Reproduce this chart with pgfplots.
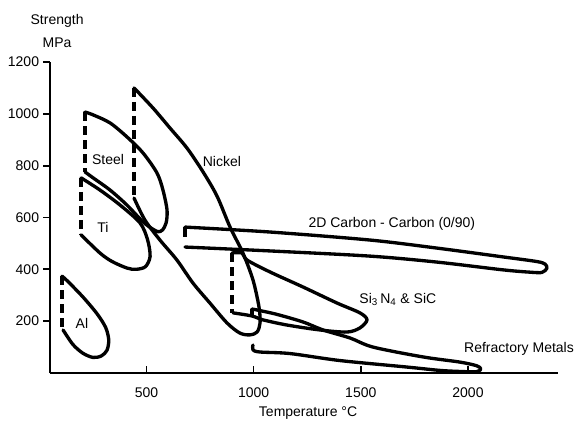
\documentclass[border=0pt]{standalone}
\usepackage{fontspec}
\setmainfont{Liberation Sans}
\usepackage{pgfplots}
\pgfplotsset{compat=1.18}
\begin{document}
\fontsize{10.5}{12.6}\selectfont
\begin{tikzpicture}
\useasboundingbox (-37.5pt,-39pt) rectangle (393.75pt,279.75pt);
\begin{axis}[
  scale only axis, width=381pt, height=233.25pt,
  xmin=50, xmax=2420, ymin=0, ymax=1200,
  axis x line*=bottom, axis y line*=left,
  axis line style={line width=1.5pt},
  xtick={500,1000,1500,2000}, ytick={200,400,...,1200},
  xtick align=inside, ytick align=outside,
  major tick length=5pt,
  tick style={line width=1.3pt, black},
  /pgf/number format/assume math mode=true,
  /pgf/number format/set thousands separator={},
  xticklabel style={yshift=-7.5pt},
  yticklabel style={xshift=0.5pt},
  xlabel={Temperature °C},
  ylabel={Strength\\[4.5pt]MPa},
  every axis x label/.style={at={(rel axis cs:0.508,0)}, anchor=north, yshift=-21.75pt},
  every axis y label/.style={at={(rel axis cs:0.014,1.03)}, anchor=south, align=center},
  clip=false,
  curve/.style={black, line width=2.5pt, smooth, no markers, line join=round, line cap=round},
  dashv/.style={black, line width=2.7pt, dash pattern=on 7pt off 3.5pt, no markers},
  seg/.style={black, line width=2.5pt, no markers, line join=miter},
]
% Al
\addplot[curve] coordinates {(106,374) (135,352) (204,293) (270,228) (310,175) (324,128) (316,88) (290,66) (251,60) (204,76) (157,110) (111,166)};
\addplot[dashv] coordinates {(106,374) (106,166)};
% Steel
\addplot[curve] coordinates {(213,1007) (251,996) (330,965) (409,911) (484,849) (549,772) (577,706) (596,629) (592,580) (575,552) (555,545) (530,555) (484,583) (409,648) (330,706) (251,753) (213,776)};
\addplot[dashv] coordinates {(213,1007) (213,776)};
% Ti
\addplot[curve] coordinates {(195,753) (283,706) (377,648) (470,579) (505,515) (517,450) (495,410) (450,400) (409,405) (340,430) (283,463) (195,533)};
\addplot[dashv] coordinates {(195,753) (195,533)};
% Nickel
\addplot[curve] coordinates {(442,1100) (530,1023) (610,945) (689,868) (764,776) (829,683) (890,563) (950,463) (997,359) (1025,255) (1030,193) (1016,158) (983,147) (936,154) (876,193) (796,270) (717,347) (642,436) (563,513) (493,590) (442,675)};
\addplot[dashv] coordinates {(442,1100) (442,675)};
% 2D Carbon-Carbon
\addplot[curve] coordinates {(680,563) (1076,544) (1543,513) (1855,482) (2163,448) (2322,430) (2360,420) (2368,404) (2345,388) (2290,389) (2163,398) (1855,428) (1543,451) (1076,471) (680,486)};
\addplot[seg] coordinates {(680,525) (680,563)};
% Si3N4 & SiC
\addplot[curve] coordinates {(899,463) (946,463) (969,436) (1076,390) (1230,332) (1389,270) (1496,232) (1529,205) (1496,174) (1436,158) (1310,166) (1156,185) (1044,205) (992,220) (904,232)};
\addplot[dashv] coordinates {(899,463) (899,232)};
% Refractory metals
\addplot[seg] coordinates {(992,222) (992,247)};
\addplot[curve] coordinates {(992,247) (1100,228) (1230,197) (1324,166) (1450,135) (1557,100) (1790,62) (1963,42) (2040,28) (2060,16) (2040,5) (1960,6) (1869,10) (1715,23) (1403,48) (1170,75) (1030,81) (997,89) (997,108)};

\node at (axis cs:321,822) {Steel};
\node at (axis cs:297,563) {Ti};
\node at (axis cs:199,193) {Al};
\node at (axis cs:852,818) {Nickel};
\node[anchor=base] at (axis cs:1645,560) {2D Carbon - Carbon (0/90)};
\node[anchor=base] at (axis cs:1673,270) {Si\textsubscript{3}\,N\textsubscript{4} \& SiC};
\node[anchor=base] at (axis cs:2238,81) {Refractory Metals};
\end{axis}
\end{tikzpicture}
\end{document}
